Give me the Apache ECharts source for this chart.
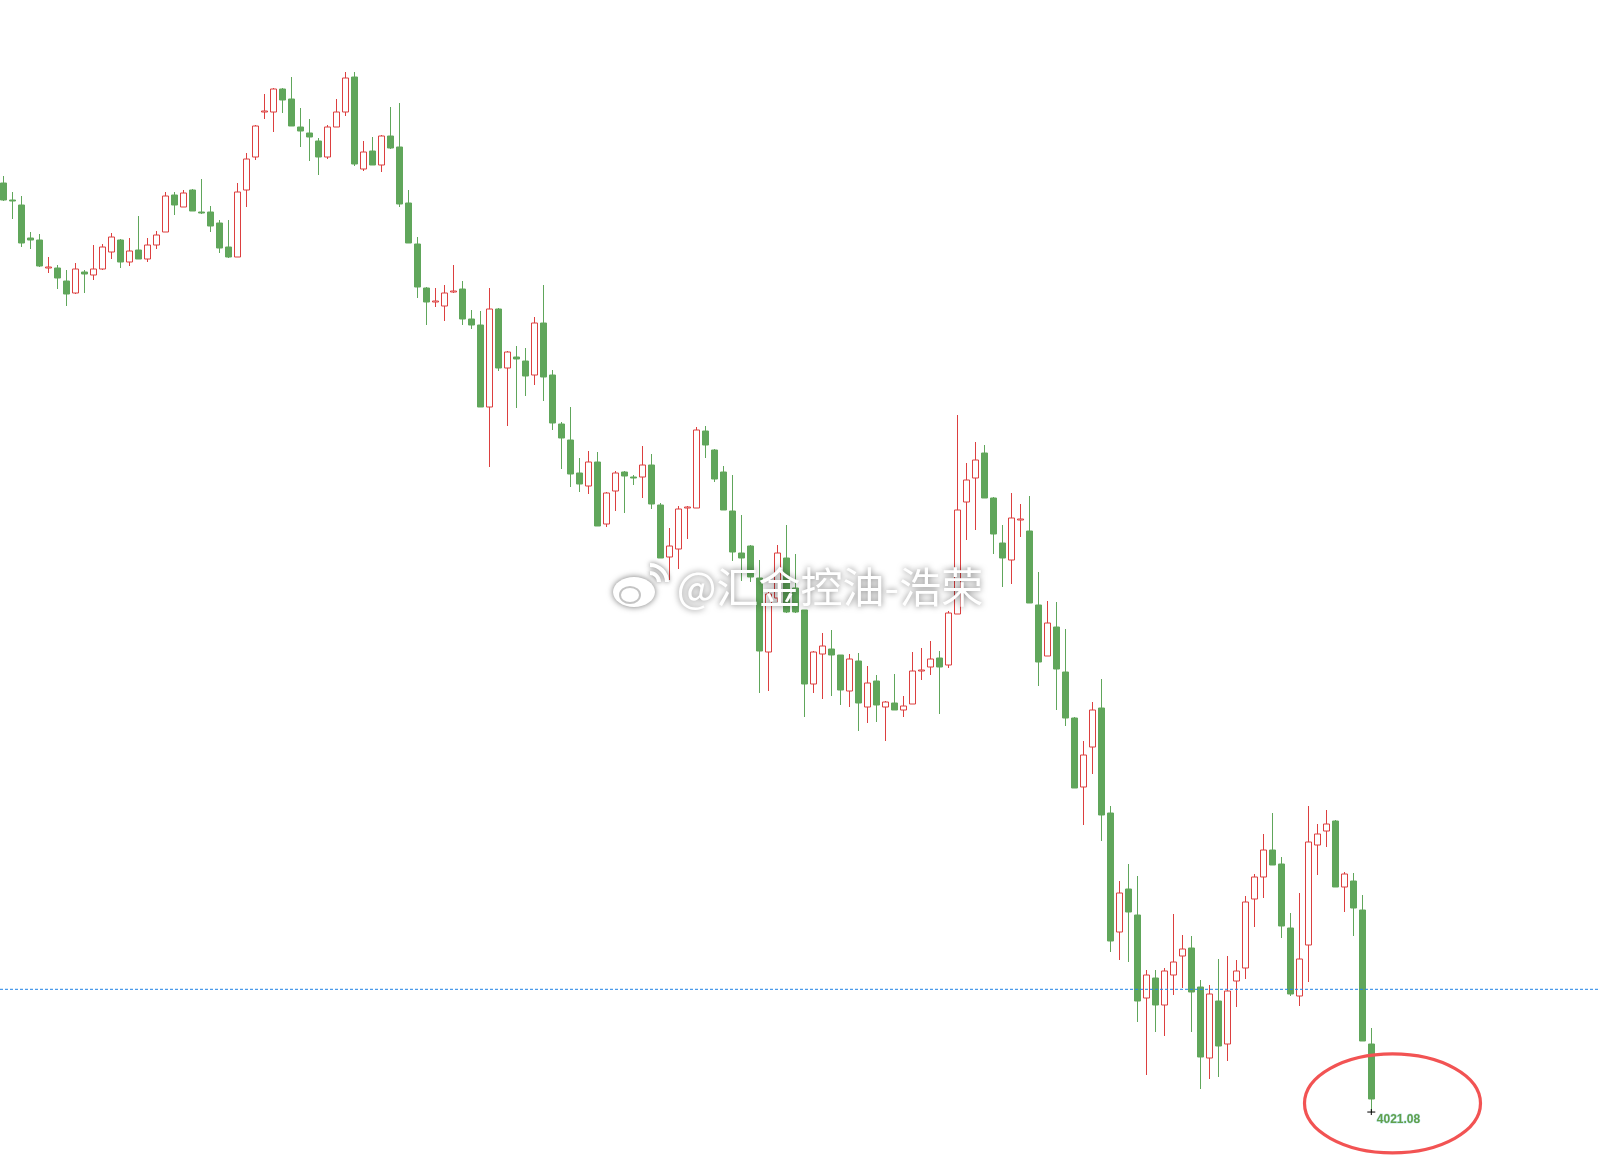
<!DOCTYPE html>
<html>
<head>
<meta charset="utf-8">
<script src="https://cdn.jsdelivr.net/npm/echarts@6/dist/echarts.min.js"></script>
<style>
html,body{margin:0;padding:0;background:#fff;}
#main{width:1599px;height:1171px;}
</style>
</head>
<body>
<div id="main"></div>
<script>
// candle prices, one entry per bar
const opens = [4485.6,4477.1,4474.6,4458.1,4457.1,4443.1,4443.1,4436.6,4430.6,4441.1,
4439.6,4442.6,4451.1,4457.1,4446.1,4452.1,4447.6,4454.6,4461.1,4479.6,
4473.6,4482.1,4471.1,4471.1,4465.6,4453.6,4448.6,4482.1,4498.6,4521.1,
4521.1,4532.6,4527.6,4513.6,4510.6,4506.6,4498.6,4513.6,4521.1,4538.6,
4492.6,4501.6,4494.6,4509.1,4503.6,4475.6,4455.1,4433.1,4426.1,4424.1,
4431.1,4432.6,4417.6,4414.6,4373.6,4422.6,4393.1,4398.6,4396.6,4389.6,
4415.6,4389.6,4365.1,4357.1,4340.6,4334.1,4346.1,4315.1,4331.6,4341.1,
4338.6,4338.6,4344.6,4324.6,4298.6,4302.6,4323.1,4323.1,4361.6,4352.1,
4341.1,4321.6,4300.6,4304.1,4288.1,4251.1,4278.1,4298.1,4283.1,4272.1,
4235.1,4250.1,4252.6,4249.6,4231.6,4246.6,4223.6,4236.6,4223.6,4225.6,
4222.1,4225.1,4241.6,4243.6,4248.1,4244.6,4270.1,4326.1,4338.1,4350.6,
4328.1,4305.6,4297.1,4317.1,4311.6,4274.6,4249.1,4263.6,4241.1,4218.1,
4183.6,4203.6,4223.1,4170.6,4111.1,4132.6,4119.6,4078.1,4088.1,4074.6,
4089.6,4099.1,4103.1,4083.6,4048.1,4076.6,4055.1,4086.6,4093.1,4127.6,
4138.6,4152.1,4145.1,4113.1,4079.1,4104.6,4154.6,4161.6,4166.6,4133.6,
4136.6,4122.1,4055.1];
const closes = [4477.1,4476.6,4455.6,4457.1,4444.1,4443.6,4438.1,4430.1,4442.6,4440.1,
4442.6,4453.6,4458.6,4446.1,4451.6,4447.6,4454.6,4459.6,4479.1,4474.6,
4480.6,4471.6,4470.6,4464.1,4453.1,4448.6,4481.1,4497.6,4514.1,4521.6,
4532.6,4527.1,4514.1,4511.6,4508.6,4498.6,4513.6,4521.1,4538.1,4495.1,
4501.1,4494.6,4509.1,4503.1,4475.1,4455.6,4433.6,4426.1,4426.6,4430.6,
4431.6,4417.6,4414.6,4373.6,4422.6,4393.1,4401.1,4397.6,4389.1,4415.6,
4388.6,4365.6,4358.1,4340.1,4335.1,4346.1,4314.1,4330.6,4340.6,4339.1,
4338.1,4344.6,4325.1,4298.1,4304.1,4322.6,4323.6,4362.1,4354.6,4337.6,
4322.1,4301.1,4298.1,4288.6,4251.6,4280.1,4300.6,4271.1,4271.1,4235.1,
4251.1,4254.1,4249.6,4232.1,4247.6,4225.6,4235.6,4224.6,4226.1,4222.1,
4224.1,4241.6,4242.1,4247.6,4243.6,4270.6,4322.1,4337.1,4347.1,4328.1,
4310.1,4298.1,4318.1,4317.6,4275.6,4246.1,4265.6,4242.6,4218.1,4183.1,
4199.6,4222.1,4169.6,4106.6,4130.6,4121.1,4076.6,4089.6,4074.6,4091.6,
4096.1,4102.6,4081.1,4048.6,4080.1,4054.1,4081.6,4091.6,4126.1,4138.6,
4152.1,4144.6,4114.1,4080.1,4097.6,4156.1,4160.1,4165.1,4133.6,4140.1,
4123.1,4056.6,4027.6];
const lows = [4476.6,4467.6,4453.6,4452.6,4443.6,4440.6,4432.6,4424.1,4430.1,4430.6,
4437.1,4442.1,4447.6,4443.1,4444.1,4447.6,4446.1,4452.6,4461.1,4469.6,
4473.6,4471.6,4470.1,4461.1,4450.6,4448.1,4448.6,4473.6,4497.1,4517.6,
4511.1,4520.6,4514.1,4503.6,4496.6,4489.6,4497.6,4513.6,4519.1,4494.1,
4491.6,4494.6,4491.1,4502.6,4473.6,4455.6,4428.1,4414.6,4423.6,4416.6,
4430.6,4414.6,4412.6,4373.6,4343.6,4391.6,4364.1,4373.1,4379.1,4384.6,
4376.6,4362.1,4342.6,4333.6,4331.1,4330.1,4314.1,4313.6,4321.6,4320.6,
4334.6,4328.1,4322.6,4298.1,4287.1,4292.6,4307.6,4323.1,4348.1,4336.1,
4322.1,4296.6,4286.6,4286.1,4230.6,4231.6,4276.1,4270.6,4270.6,4218.6,
4230.6,4227.6,4229.1,4224.6,4223.6,4211.6,4215.6,4216.1,4206.6,4222.1,
4218.6,4225.1,4237.1,4239.6,4220.1,4243.1,4270.1,4307.1,4312.1,4328.1,
4300.1,4283.6,4285.1,4308.6,4275.6,4234.1,4249.1,4222.1,4214.1,4183.1,
4164.6,4190.1,4156.6,4101.1,4097.1,4096.1,4066.1,4039.6,4061.1,4059.1,
4079.6,4083.1,4061.1,4032.6,4037.6,4038.6,4046.6,4073.6,4087.6,4113.6,
4128.1,4144.6,4108.1,4079.1,4074.1,4086.1,4139.6,4153.6,4133.6,4121.1,
4109.1,4056.6,4021.08];
const highs = [4489.1,4481.1,4479.1,4461.1,4460.1,4448.6,4444.6,4442.1,4445.6,4442.1,
4454.6,4455.1,4460.6,4457.6,4458.1,4469.1,4458.1,4461.6,4481.1,4481.1,
4482.1,4482.6,4487.6,4474.1,4467.1,4467.1,4485.6,4500.6,4514.6,4530.1,
4533.1,4533.1,4538.6,4523.1,4517.6,4508.1,4514.6,4527.6,4541.1,4541.1,
4506.6,4508.6,4509.6,4523.6,4525.6,4482.1,4458.6,4433.6,4433.1,4434.6,
4444.6,4436.6,4422.1,4421.6,4433.1,4423.1,4401.6,4404.1,4403.1,4418.6,
4434.6,4392.1,4366.1,4373.6,4348.1,4351.6,4351.1,4331.1,4341.6,4341.6,
4339.6,4354.1,4350.1,4325.6,4313.1,4324.1,4324.1,4363.6,4364.1,4352.6,
4344.1,4339.6,4319.6,4304.6,4297.1,4282.1,4304.6,4314.6,4300.1,4272.1,
4251.6,4260.6,4262.1,4249.6,4250.1,4250.6,4244.1,4239.6,4226.6,4240.1,
4229.1,4251.1,4253.1,4256.6,4251.6,4271.6,4369.6,4345.6,4356.1,4354.6,
4328.6,4314.6,4330.6,4325.1,4329.1,4291.1,4276.6,4276.1,4262.6,4218.6,
4206.6,4226.1,4237.6,4174.1,4136.6,4145.1,4139.1,4092.1,4092.1,4093.1,
4120.1,4109.6,4109.1,4087.1,4084.6,4097.6,4099.1,4097.1,4129.1,4140.1,
4160.1,4170.6,4148.6,4120.6,4130.6,4174.1,4165.1,4172.1,4167.1,4141.1,
4140.6,4129.6,4063.1];
const refLevel = 4082.45;      // blue dashed line
const lowLabel = '4021.08';    // label at the last low
const watermark = '@汇金控油-浩荣';

const categories = opens.map((_, i) => String(i + 1));
const candleData = opens.map((o, i) => [o, closes[i], lows[i], highs[i]]);

const UP = '#dc3f3f', DOWN = '#60a65b';
const chart = echarts.init(document.getElementById('main'), null, {renderer: 'canvas'});
chart.setOption({
  animation: false,
  backgroundColor: '#ffffff',
  grid: {left: 3.3, right: 227.7, top: 0, bottom: 0},
  xAxis: {type: 'category', data: categories, boundaryGap: false, show: false},
  yAxis: {type: 'value', min: 3991.6, max: 4577.1, show: false, splitLine: {show: false}},
  series: [{
    type: 'candlestick',
    data: candleData,
    clip: false,
    barWidth: 6,
    itemStyle: {color: '#ffffff', color0: DOWN, borderColor: UP, borderColor0: DOWN, borderWidth: 1}
  }]
});

const last = opens.length - 1;
const lp = chart.convertToPixel({seriesIndex: 0}, [last, lows[last]]);
const refY = chart.convertToPixel({yAxisIndex: 0}, refLevel);
const wmShadow = 'rgba(0,0,0,0.55)';

chart.setOption({
  graphic: [
    {type: 'line', z: 50, shape: {x1: 0, y1: refY, x2: 1599, y2: refY},
     style: {stroke: '#1e82e6', lineWidth: 1, lineDash: [3, 2]}},
    {type: 'line', z: 60, shape: {x1: lp[0] - 4, y1: lp[1], x2: lp[0] + 4, y2: lp[1]},
     style: {stroke: '#000', lineWidth: 1}},
    {type: 'line', z: 60, shape: {x1: lp[0], y1: lp[1] - 3, x2: lp[0], y2: lp[1] + 3},
     style: {stroke: '#000', lineWidth: 1}},
    {type: 'text', z: 60, style: {text: lowLabel, x: lp[0] + 5.5, y: lp[1] + 7.5,
      font: 'bold 12px "Liberation Sans", Arial, sans-serif', fill: '#62a04a',
      verticalAlign: 'middle', align: 'left',
      stroke: 'rgba(140,215,235,0.55)', lineWidth: 1}},
    {type: 'ellipse', z: 60, shape: {cx: lp[0] + 21.2, cy: lp[1] - 8.7, rx: 88, ry: 49.5},
     style: {fill: 'none', stroke: '#f25353', lineWidth: 3.2}},
    // watermark
    {type: 'text', z: 100, style: {text: watermark, x: 830, y: 587,
      font: '42px "Noto Sans CJK SC", sans-serif', fill: '#ffffff',
      align: 'center', verticalAlign: 'middle',
      textShadowBlur: 6, textShadowColor: wmShadow, textShadowOffsetX: 0, textShadowOffsetY: 0}},
    {type: 'ellipse', z: 100, shape: {cx: 634, cy: 592, rx: 21, ry: 15},
     style: {fill: '#ffffff', shadowBlur: 6, shadowColor: wmShadow}},
    {type: 'ellipse', z: 101, shape: {cx: 630, cy: 595, rx: 10, ry: 8},
     style: {fill: 'none', stroke: 'rgba(190,190,190,0.9)', lineWidth: 2}},
    {type: 'arc', z: 100, shape: {cx: 650, cy: 582, r: 9, startAngle: -Math.PI / 2, endAngle: 0},
     style: {stroke: '#ffffff', lineWidth: 4, fill: 'none', shadowBlur: 5, shadowColor: wmShadow}},
    {type: 'arc', z: 100, shape: {cx: 650, cy: 582, r: 17, startAngle: -Math.PI / 2, endAngle: 0},
     style: {stroke: '#ffffff', lineWidth: 4, fill: 'none', shadowBlur: 5, shadowColor: wmShadow}}
  ]
});
</script>
</body>
</html>
